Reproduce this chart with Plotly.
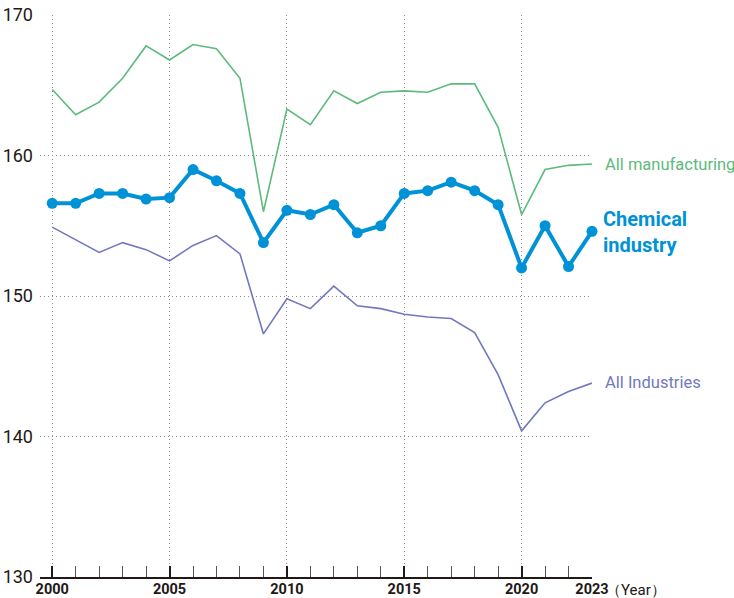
import plotly.graph_objects as go

years = list(range(2000, 2024))
all_manufacturing = [164.7, 162.9, 163.8, 165.5, 167.8, 166.8, 167.9, 167.6, 165.5, 156.0,
                     163.3, 162.2, 164.6, 163.7, 164.5, 164.6, 164.5, 165.1, 165.1, 162.0,
                     155.8, 159.0, 159.3, 159.4]
chemical_industry = [156.6, 156.6, 157.3, 157.3, 156.9, 157.0, 159.0, 158.2, 157.3, 153.8,
                     156.1, 155.8, 156.5, 154.5, 155.0, 157.3, 157.5, 158.1, 157.5, 156.5,
                     152.0, 155.0, 152.1, 154.6]
all_industries = [154.9, 154.0, 153.1, 153.8, 153.3, 152.5, 153.6, 154.3, 153.0, 147.3,
                  149.8, 149.1, 150.7, 149.3, 149.1, 148.7, 148.5, 148.4, 147.4, 144.4,
                  140.4, 142.4, 143.2, 143.8]
x_tick_vals = [2000, 2005, 2010, 2015, 2020, 2023]
grid_years = [2000, 2005, 2010, 2015, 2020]
y_tick_vals = [130, 140, 150, 160, 170]

FONT = "Roboto, sans-serif"
GREEN = "#5dba7d"
BLUE = "#0092d6"
PURPLE = "#7178c0"
DARK = "#231815"
GRID = "#8c8c8c"
DOTS = "1px,3px"

fig = go.Figure()
# invisible trace that carries the vertical-grid axis
fig.add_trace(go.Scatter(x=[years[0], years[-1]], y=[y_tick_vals[0], y_tick_vals[0]],
                         xaxis="x2", mode="lines", line=dict(width=0),
                         hoverinfo="skip", showlegend=False))
fig.add_trace(go.Scatter(x=years, y=all_manufacturing, mode="lines",
                         line=dict(color=GREEN, width=1.6), showlegend=False, cliponaxis=False))
fig.add_trace(go.Scatter(x=years, y=all_industries, mode="lines",
                         line=dict(color=PURPLE, width=1.6), showlegend=False, cliponaxis=False))
fig.add_trace(go.Scatter(x=years, y=chemical_industry, mode="lines+markers",
                         line=dict(color=BLUE, width=4), marker=dict(color=BLUE, size=11),
                         showlegend=False, cliponaxis=False))

fig.add_annotation(x=years[-1], y=all_manufacturing[-1], text="All manufacturing",
                   xanchor="left", yanchor="middle", xshift=11, yshift=-1, showarrow=False,
                   font=dict(family=FONT, size=16.5, color=GREEN))
fig.add_annotation(x=years[-1], y=chemical_industry[-1], text="<b>Chemical<br>industry</b>",
                   xanchor="left", yanchor="middle", xshift=9, yshift=-1, showarrow=False,
                   align="left", font=dict(family=FONT, size=20, color=BLUE))
fig.add_annotation(x=years[-1], y=all_industries[-1], text="All Industries",
                   xanchor="left", yanchor="middle", xshift=11, yshift=1, showarrow=False,
                   font=dict(family=FONT, size=16.5, color=PURPLE))
fig.add_annotation(x=years[-1], y=y_tick_vals[0], text="（Year）",
                   xanchor="left", yanchor="top", xshift=12, yshift=-2, showarrow=False,
                   font=dict(family=FONT, size=15, color=DARK))

xr = [1999.48, 2023]
fig.update_layout(
    width=734, height=598,
    margin=dict(l=40, r=142, t=15, b=21),
    paper_bgcolor="white", plot_bgcolor="white",
    font=dict(family=FONT, color=DARK),
    xaxis=dict(range=xr, tickvals=x_tick_vals, ticktext=[f"<b>{v}</b>" for v in x_tick_vals],
               showgrid=False, zeroline=False, automargin=False,
               ticks="inside", ticklen=11, tickwidth=1.5, tickcolor=DARK,
               showline=True, linecolor=DARK, linewidth=2,
               minor=dict(dtick=1, tick0=2000, ticks="inside", ticklen=11, tickwidth=1.2,
                          tickcolor="#555555", showgrid=False),
               tickfont=dict(family=FONT, size=14.5, color=DARK), ticklabelstandoff=-2),
    xaxis2=dict(range=xr, overlaying="x", tickvals=grid_years, showgrid=True,
                gridcolor=GRID, griddash=DOTS, gridwidth=1, automargin=False,
                showticklabels=False, ticks="", zeroline=False, showline=False),
    yaxis=dict(range=[y_tick_vals[0], y_tick_vals[-1]], tickvals=y_tick_vals,
               showgrid=True, gridcolor=GRID, griddash=DOTS, gridwidth=1,
               zeroline=False, showline=False, ticks="", automargin=False,
               tickfont=dict(family=FONT, size=18, color=DARK), ticklabelstandoff=6),
)

fig.write_html("out.html", config={"displayModeBar": False},
               post_script="document.body.style.margin='0';document.body.style.overflow='hidden';")
